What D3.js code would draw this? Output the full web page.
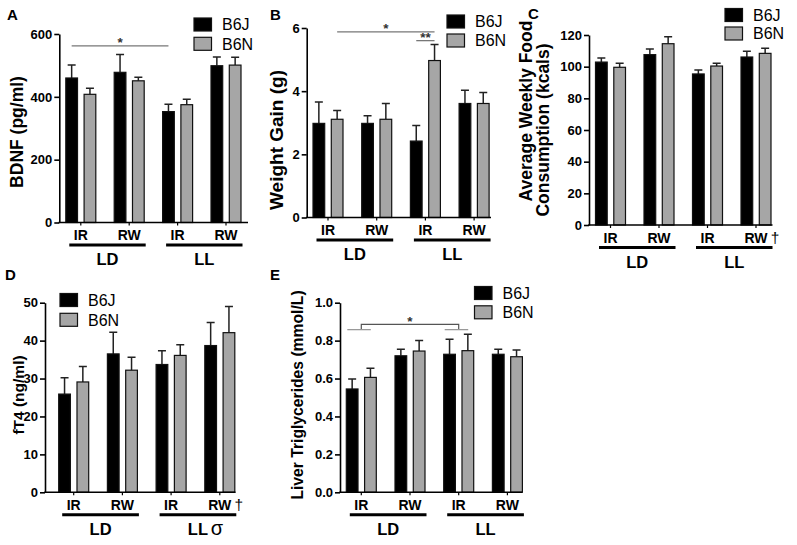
<!DOCTYPE html>
<html><head><meta charset="utf-8">
<script src="https://cdn.jsdelivr.net/npm/d3@7"></script>
<style>
body{margin:0;background:#fff}
svg{display:block}
text{font-family:"Liberation Sans",Arial,Helvetica,sans-serif}
</style>
</head><body>
<svg id="chart" width="797" height="545"></svg>
<script>
// ---------- data ----------
const groups = ["LD IR", "LD RW", "LL IR", "LL RW"];
const groupLabels = ["IR", "RW", "IR", "RW"];
const lightLabels = ["LD", "LL"];
const series = ["B6J", "B6N"];

const bdnfB6J = [460, 478, 353, 499];
const bdnfB6JSem = [41, 57, 23, 28];
const bdnfB6N = [408, 451, 375, 501];
const bdnfB6NSem = [19, 11, 17, 25];
const bdnfTicks = [0, 200, 400, 600];

const gainB6J = [2.98, 2.98, 2.42, 3.61];
const gainB6JSem = [0.68, 0.24, 0.49, 0.42];
const gainB6N = [3.11, 3.11, 4.97, 3.61];
const gainB6NSem = [0.28, 0.50, 0.51, 0.35];
const gainTicks = [0, 2, 4, 6];

const foodB6J = [102.9, 107.6, 95.4, 106.1];
const foodB6JSem = [2.6, 3.6, 2.5, 3.6];
const foodB6N = [99.6, 114.5, 100.4, 108.4];
const foodB6NSem = [2.5, 4.4, 1.7, 3.2];
const foodTicks = [0, 20, 40, 60, 80, 100, 120];

const ft4B6J = [25.9, 36.5, 33.7, 38.7];
const ft4B6JSem = [4.3, 5.7, 3.6, 6.1];
const ft4B6N = [29.1, 32.2, 36.1, 42.1];
const ft4B6NSem = [4.1, 3.4, 2.8, 6.9];
const ft4Ticks = [0, 10, 20, 30, 40, 50];

const tgB6J = [0.545, 0.72, 0.728, 0.728];
const tgB6JSem = [0.053, 0.034, 0.079, 0.026];
const tgB6N = [0.606, 0.745, 0.747, 0.715];
const tgB6NSem = [0.048, 0.055, 0.086, 0.035];
const tgTicks = [0, 0.2, 0.4, 0.6, 0.8, 1.0];

// ---------- drawing ----------
const svg = d3.select("#chart");
const color = d3.scaleOrdinal().domain(series).range(["#000000", "#a6a6a6"]);

function drawPanel(p) {
  const g = svg.append("g");
  const y = d3.scaleLinear().domain([0, d3.max(p.ticks)]).range([p.yBase, p.yTop]);
  const c0 = p.x0 + p.off;
  const x = d3.scaleBand().domain(groups).range([c0 - p.step / 2, c0 + p.step * 3.5]);
  const xs = d3.scaleBand().domain(series).range([-15, 15]).paddingInner(0.36);
  const cx = k => x(k) + x.bandwidth() / 2;
  const bc = (k, s) => cx(k) + xs(s) + xs.bandwidth() / 2;

  const rows = [];
  series.forEach((s, si) => groups.forEach((k, i) =>
    rows.push({ k, s, v: p.vals[si][i], e: p.errs[si][i] })));

  // error bars
  g.append("g").selectAll("path").data(rows).join("path")
    .attr("d", d => {
      const bx = bc(d.k, d.s), t = y(d.v + d.e);
      return `M${bx},${y(d.v)}V${t}M${bx - 4},${t}H${bx + 4}`;
    })
    .attr("fill", "none").attr("stroke", "#222").attr("stroke-width", 1.5);

  // bars
  g.append("g").selectAll("rect").data(rows).join("rect")
    .attr("x", d => cx(d.k) + xs(d.s))
    .attr("width", xs.bandwidth())
    .attr("y", d => y(d.v))
    .attr("height", d => y(0) - y(d.v))
    .attr("fill", d => color(d.s))
    .attr("stroke", "#111").attr("stroke-width", 1.2);

  // y axis
  const ya = g.append("g").attr("transform", `translate(${p.x0},0)`)
    .call(d3.axisLeft(y).tickValues(p.ticks).tickSize(5).tickSizeOuter(0).tickPadding(2)
      .tickFormat(p.fmt || d3.format("d")));
  ya.select(".domain").attr("stroke", "#000").attr("stroke-width", 1.6);
  ya.selectAll(".tick line").attr("stroke", "#000").attr("stroke-width", 1.6);
  ya.selectAll(".tick text").attr("font-family", "Liberation Sans, Arial, sans-serif")
    .attr("font-size", 13).attr("font-weight", "bold").attr("fill", "#000");

  // x axis line + small ticks
  g.append("line").attr("x1", p.x0 - 0.8).attr("x2", p.xEnd)
    .attr("y1", y(0)).attr("y2", y(0)).attr("stroke", "#000").attr("stroke-width", 1.6);
  const xa = g.append("g").attr("transform", `translate(0,${y(0)})`)
    .call(d3.axisBottom(x).tickSize(3).tickFormat(""));
  xa.select(".domain").remove();
  xa.selectAll(".tick line").attr("stroke", "#000").attr("stroke-width", 1.2);

  // category labels
  g.append("g").selectAll("text").data(groups).join("text")
    .attr("x", d => cx(d)).attr("y", p.yBase + 17.5)
    .attr("text-anchor", "middle").attr("font-size", 14).attr("font-weight", "bold")
    .text((d, i) => groupLabels[i]);
  if (p.dagger) {
    g.append("text").attr("x", cx(groups[3]) + 19).attr("y", p.yBase + 17.5)
      .attr("text-anchor", "middle").attr("font-size", 15.5).text("†");
  }
  // light condition lines + labels
  lightLabels.forEach((lab, j) => {
    const a = cx(groups[2 * j]) - 11.5, b = cx(groups[2 * j + 1]) + 16.5;
    g.append("line").attr("x1", a).attr("x2", b)
      .attr("y1", p.yBase + 22.5).attr("y2", p.yBase + 22.5)
      .attr("stroke", "#000").attr("stroke-width", 3);
    g.append("text").attr("x", (a + b) / 2).attr("y", p.yBase + 42.5)
      .attr("text-anchor", "middle").attr("font-size", 16.5).attr("font-weight", "bold").text(lab);
    if (p.sigma && j === 1) {
      g.append("text").attr("x", (a + b) / 2 + 19).attr("y", p.yBase + 42.5)
        .attr("text-anchor", "middle").attr("font-size", 20)
        .attr("font-family", "Liberation Serif, Times New Roman, serif").text("σ");
    }
  });

  // y title
  const yt = g.append("text").attr("transform", `rotate(-90)`)
    .attr("text-anchor", "middle").attr("font-size", p.titleSize).attr("font-weight", "bold");
  p.title.forEach((line, i) => {
    yt.append("tspan").attr("x", -p.titleY[i]).attr("y", p.titleX[i]).text(line);
  });

  // panel letter
  g.append("text").attr("x", p.letterX).attr("y", p.letterY)
    .attr("font-size", 15).attr("font-weight", "bold").text(p.letter);

  // legend
  const lg = g.append("g").attr("transform", `translate(${p.legX},${p.legY})`);
  series.forEach((s, i) => {
    lg.append("rect").attr("x", 0).attr("y", i * p.legStep).attr("width", 17.5).attr("height", 13)
      .attr("fill", color(s)).attr("stroke", "#111").attr("stroke-width", 1.2);
    lg.append("text").attr("x", 28).attr("y", i * p.legStep + 6.5).attr("dy", "0.36em")
      .attr("font-size", 16).text(s);
  });

  // significance annotations
  (p.sig || []).forEach(sg => {
    if (sg.type === "line") {
      const a = bc(groups[sg.from], sg.fromS), b = bc(groups[sg.to], sg.toS);
      g.append("line").attr("x1", a).attr("x2", b).attr("y1", y(sg.level)).attr("y2", y(sg.level))
        .attr("stroke", "#777").attr("stroke-width", 1.3);
      g.append("text").attr("x", (a + b) / 2).attr("y", y(sg.level) + 1.5)
        .attr("text-anchor", "middle").attr("font-size", 13.5).attr("font-weight", "bold")
        .attr("fill", "#333").text(sg.label);
    } else {
      const a = cx(groups[sg.from]), b = cx(groups[sg.to]);
      g.append("path")
        .attr("d", `M${a},${y(sg.low)}V${y(sg.level)}H${b}V${y(sg.low)}`)
        .attr("fill", "none").attr("stroke", "#555").attr("stroke-width", 1.2);
      [a, b].forEach(c => g.append("line").attr("x1", c - 14).attr("x2", c + 9.5)
        .attr("y1", y(sg.low)).attr("y2", y(sg.low)).attr("stroke", "#999").attr("stroke-width", 1.3));
      g.append("text").attr("x", (a + b) / 2).attr("y", y(sg.level) + 2)
        .attr("text-anchor", "middle").attr("font-size", 13.5).attr("font-weight", "bold")
        .attr("fill", "#333").text(sg.label);
    }
  });
}

drawPanel({
  letter: "A", letterX: 7, letterY: 20,
  x0: 59.3, off: 21.5, step: 48.4, xEnd: 248, yTop: 34, yBase: 222.5,
  ticks: bdnfTicks, vals: [bdnfB6J, bdnfB6N], errs: [bdnfB6JSem, bdnfB6NSem],
  title: ["BDNF (pg/ml)"], titleX: [22.5], titleY: [132], titleSize: 17.5,
  legX: 194, legY: 18, legStep: 19.3,
  sig: [{ type: "line", from: 0, fromS: "B6J", to: 2, toS: "B6J", level: 562, label: "*" }]
});

drawPanel({
  letter: "B", letterX: 270, letterY: 20,
  x0: 306.7, off: 21.3, step: 48.7, xEnd: 491, yTop: 28, yBase: 217.5,
  ticks: gainTicks, vals: [gainB6J, gainB6N], errs: [gainB6JSem, gainB6NSem],
  title: ["Weight Gain (g)"], titleX: [283], titleY: [140], titleSize: 19,
  legX: 447, legY: 15, legStep: 19,
  sig: [
    { type: "line", from: 0, fromS: "B6N", to: 2, toS: "B6N", level: 5.88, label: "*" },
    { type: "line", from: 2, fromS: "B6J", to: 2, toS: "B6N", level: 5.6, label: "**" }
  ]
});

drawPanel({
  letter: "C", letterX: 528, letterY: 19,
  x0: 589, off: 21.5, step: 48.5, xEnd: 772.5, yTop: 35, yBase: 225,
  ticks: foodTicks, vals: [foodB6J, foodB6N], errs: [foodB6JSem, foodB6NSem],
  title: ["Average Weekly Food", "Consumption (kcals)"], titleX: [532, 549], titleY: [111, 130], titleSize: 17.5,
  legX: 725, legY: 8.5, legStep: 18.5, dagger: true
});

drawPanel({
  letter: "D", letterX: 5, letterY: 280,
  x0: 45, off: 28.7, step: 48.7, xEnd: 235.5, yTop: 302.7, yBase: 492.3,
  ticks: ft4Ticks, vals: [ft4B6J, ft4B6N], errs: [ft4B6JSem, ft4B6NSem],
  title: ["fT4 (ng/ml)"], titleX: [24], titleY: [395], titleSize: 15.5,
  legX: 60, legY: 293.5, legStep: 19.8, dagger: true, sigma: true
});

drawPanel({
  letter: "E", letterX: 270, letterY: 280,
  x0: 340, off: 21.3, step: 48.7, xEnd: 522, yTop: 302.7, yBase: 492.3,
  ticks: tgTicks, vals: [tgB6J, tgB6N], errs: [tgB6JSem, tgB6NSem],
  fmt: d3.format(".1f"),
  title: ["Liver Triglycerides (mmol/L)"], titleX: [303], titleY: [395], titleSize: 15.7,
  legX: 474.5, legY: 286.5, legStep: 19.3,
  sig: [{ type: "bracket", from: 0, to: 2, level: 0.886, low: 0.858, label: "*" }]
});
</script>
</body></html>
